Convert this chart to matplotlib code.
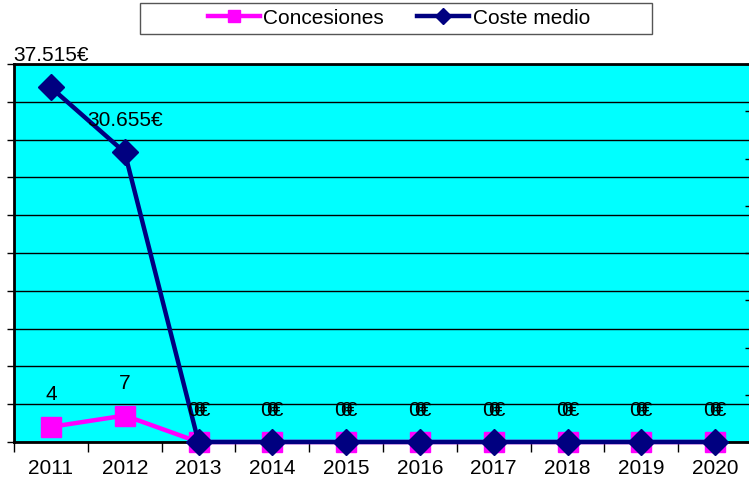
import numpy as np
import matplotlib.pyplot as plt
from matplotlib.patches import Rectangle

plt.rcParams['font.family'] = ['Liberation Sans', 'DejaVu Sans']

# --- data ---
years = ['2011', '2012', '2013', '2014', '2015', '2016', '2017', '2018', '2019', '2020']
concesiones = [4, 7, 0, 0, 0, 0, 0, 0, 0, 0]
coste_medio = [37515, 30655, 0, 0, 0, 0, 0, 0, 0, 0]

def euro(v):
    return f"{v:,.0f}".replace(',', '.') + '€'

x = np.arange(len(years))
FS = 15

fig = plt.figure(figsize=(7.49, 4.8), dpi=100)
ax = fig.add_axes([14/749, 38/480, (752-14)/749, 378/480])
ax.set_facecolor('#00FFFF')

ax.set_xlim(-0.5, len(years) - 0.5)
ax.set_ylim(0, 100)
ax.set_yticks(np.arange(0, 101, 10))
ax.set_yticklabels([])
ax.yaxis.grid(True, color='black', linewidth=1)
ax.set_axisbelow(True)
ax.tick_params(axis='y', direction='out', length=5, width=1)

ax.set_xticks(x)
ax.set_xticklabels(years, fontsize=FS)
ax.set_xticks(np.arange(-0.5, len(years), 1), minor=True)
ax.tick_params(axis='x', which='major', length=0, pad=12)
ax.tick_params(axis='x', which='minor', direction='out', length=7, width=1)

for s in ['left', 'top', 'bottom']:
    ax.spines[s].set_linewidth(2)
ax.spines['right'].set_visible(False)

l1, = ax.plot(x, concesiones, '-s', color='#FF00FF', linewidth=3.2, markersize=14,
              markeredgecolor='#FF00FF', label='Concesiones', zorder=3, clip_on=False)

ax2 = ax.twinx()
ax2.set_ylim(0, 40000)
ax2.set_yticks(np.arange(0, 40001, 5000))
ax2.set_yticklabels([])
ax2.tick_params(axis='y', direction='in', length=5, width=1)
for s in ax2.spines.values():
    s.set_visible(False)

l2, = ax2.plot(x, coste_medio, '-D', color='#000080', linewidth=3.2, markersize=13,
               markeredgecolor='#000080', label='Coste medio', zorder=4, clip_on=False)

for xi, v in zip(x, concesiones):
    ax.annotate(str(v), (xi, v), xytext=(0, 23), textcoords='offset points',
                ha='center', va='center', fontsize=FS, zorder=6)
for xi, v in zip(x, coste_medio):
    ax2.annotate(euro(v), (xi, v), xytext=(0, 23), textcoords='offset points',
                 ha='center', va='center', fontsize=FS, zorder=6, annotation_clip=False)

# legend (Excel-style wide box)
fig.patches.append(Rectangle((140/749, 1 - 34/480), 512/749, 31/480,
                             transform=fig.transFigure, facecolor='white',
                             edgecolor='#555555', linewidth=1, zorder=0))
leg = fig.legend(handles=[l1, l2], loc='center', bbox_to_anchor=(399/749, 1 - 18/480),
                 ncol=2, fontsize=FS, frameon=False, handlelength=2.5,
                 handletextpad=0.15, columnspacing=1.6, borderpad=0.2)
for h in leg.legend_handles:
    h.set_markersize(8)

fig.savefig('out.png', dpi=100)
